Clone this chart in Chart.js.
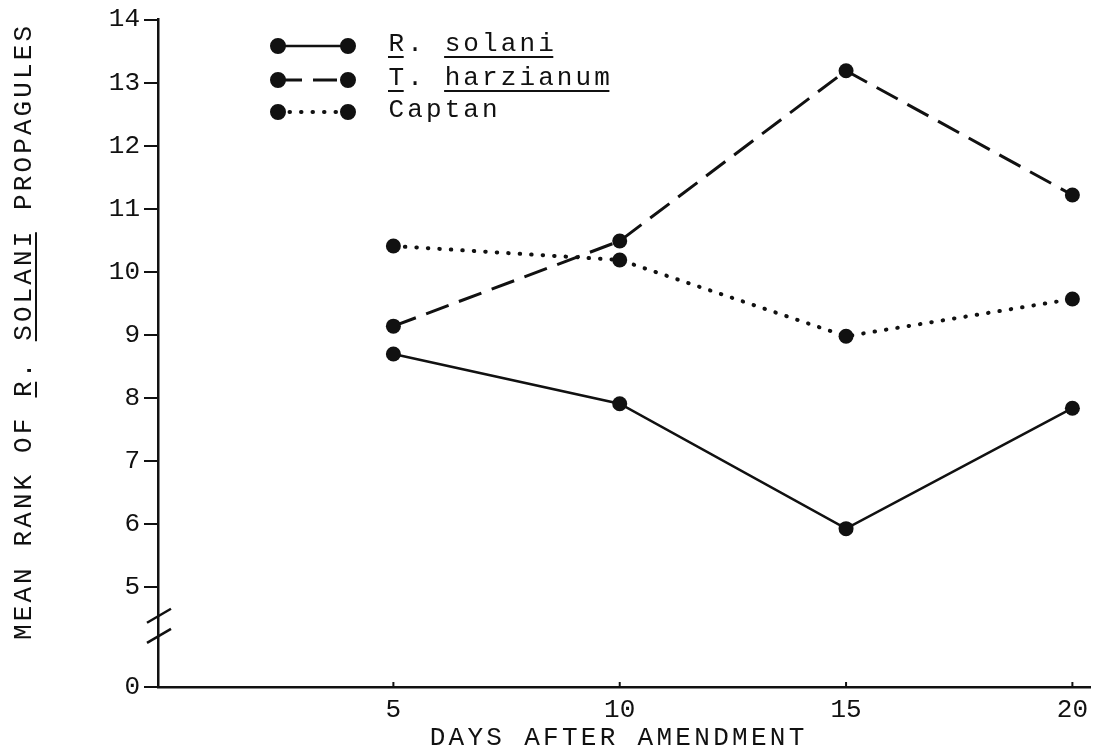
<!DOCTYPE html>
<html>
<head>
<meta charset="utf-8">
<script src="https://cdn.jsdelivr.net/npm/chart.js@4.4.1/dist/chart.umd.min.js"></script>
<style>
  html, body { margin: 0; padding: 0; background: #fff; }
  #wrap { width: 1098px; height: 753px; }
</style>
</head>
<body>
<div id="wrap"><canvas id="grafico" width="1098" height="753"></canvas></div>
<script>
// dados
var dias = [5, 10, 15, 20]
var rSolani = [8.70, 7.91, 5.93, 7.84]
var tHarzianum = [9.14, 10.49, 13.19, 11.22]
var captan = [10.41, 10.19, 8.98, 9.57]
var ticksY = [5, 6, 7, 8, 9, 10, 11, 12, 13, 14]
var ticksX = [5, 10, 15, 20]
var nomes = ['R. solani', 'T. harzianum', 'Captan']
// o eixo y e quebrado: o fundo do eixo leva o rotulo "0"
var baseY = 3.42

var fonte = "'Liberation Mono', 'DejaVu Sans Mono', monospace"
var tinta = '#111'

function pontos(valores) {
    return dias.map(function (d, i) { return { x: d, y: valores[i] } })
}

// escreve texto de maquina com passo fixo entre letras
function escreverEspacado(ctx, texto, x0, y, passo) {
    for (var i = 0; i < texto.length; i++) {
        ctx.fillText(texto[i], x0 + i * passo + passo / 2, y)
    }
}

function sublinhar(ctx, x0, passo, de, ate, y) {
    ctx.beginPath()
    ctx.moveTo(x0 + de * passo + 1, y)
    ctx.lineTo(x0 + (ate + 1) * passo - 2, y)
    ctx.stroke()
}

var estilos = [
    { dash: [], largura: 2.5, cap: 'butt' },
    { dash: [24, 11], largura: 3, cap: 'butt' },
    { dash: [0.5, 11], largura: 4, cap: 'round' }
]

var extras = {
    id: 'extras',
    afterDraw: function (chart) {
        var ctx = chart.ctx
        var sx = chart.scales.x
        var sy = chart.scales.y
        var esq = chart.chartArea.left
        var fundo = chart.chartArea.bottom
        ctx.save()
        ctx.strokeStyle = tinta
        ctx.fillStyle = tinta

        // pequenos tracos para cima no eixo x
        ctx.lineWidth = 2
        ticksX.forEach(function (t) {
            var px = sx.getPixelForValue(t)
            ctx.beginPath()
            ctx.moveTo(px, fundo)
            ctx.lineTo(px, fundo - 5)
            ctx.stroke()
        })

        // marca de quebra no eixo y
        ctx.lineWidth = 2.5
        ;[4.55, 4.23].forEach(function (v) {
            var py = sy.getPixelForValue(v)
            ctx.beginPath()
            ctx.moveTo(esq - 11, py + 7)
            ctx.lineTo(esq + 13, py - 7)
            ctx.stroke()
        })

        // legenda
        var linhasY = [46, 80, 112]
        nomes.forEach(function (nome, i) {
            var y = linhasY[i]
            var e = estilos[i]
            ctx.save()
            ctx.lineWidth = e.largura
            ctx.lineCap = e.cap
            ctx.setLineDash(e.dash)
            ctx.beginPath()
            ctx.moveTo(278, y)
            ctx.lineTo(348, y)
            ctx.stroke()
            ctx.restore()
            ctx.beginPath()
            ctx.arc(278, y, 8, 0, Math.PI * 2)
            ctx.arc(348, y, 8, 0, Math.PI * 2)
            ctx.fill()

            ctx.font = '26px ' + fonte
            ctx.textAlign = 'center'
            ctx.textBaseline = 'middle'
            escreverEspacado(ctx, nome, 387, y - 2, 18.7)
            ctx.lineWidth = 2
            if (i == 0) {
                sublinhar(ctx, 387, 18.7, 0, 0, y + 11)
                sublinhar(ctx, 387, 18.7, 3, 8, y + 11)
            }
            if (i == 1) {
                sublinhar(ctx, 387, 18.7, 0, 0, y + 11)
                sublinhar(ctx, 387, 18.7, 3, 11, y + 11)
            }
        })

        // titulo do eixo x
        ctx.font = '26px ' + fonte
        ctx.textAlign = 'center'
        ctx.textBaseline = 'middle'
        escreverEspacado(ctx, 'DAYS AFTER AMENDMENT', 428, 738, 18.9)

        // titulo do eixo y, girado
        var tituloY = 'MEAN RANK OF R. SOLANI PROPAGULES'
        var passo = 18.7
        ctx.save()
        ctx.translate(24, 333)
        ctx.rotate(-Math.PI / 2)
        var x0 = -tituloY.length * passo / 2
        escreverEspacado(ctx, tituloY, x0, 0, passo)
        ctx.lineWidth = 2
        sublinhar(ctx, x0, passo, 13, 13, 12)
        sublinhar(ctx, x0, passo, 16, 21, 12)
        ctx.restore()

        ctx.restore()
    }
}

var ctxGrafico = document.getElementById('grafico')

new Chart(ctxGrafico, {
    type: 'line',
    data: {
        datasets: [rSolani, tHarzianum, captan].map(function (serie, i) {
            return {
                label: nomes[i],
                data: pontos(serie),
                borderColor: tinta,
                backgroundColor: tinta,
                borderWidth: estilos[i].largura,
                borderDash: estilos[i].dash,
                borderCapStyle: estilos[i].cap,
                pointRadius: 7.5,
                pointBorderWidth: 0,
                pointBackgroundColor: tinta,
                tension: 0,
                fill: false
            }
        })
    },
    plugins: [extras],
    options: {
        responsive: false,
        animation: false,
        layout: { padding: { top: 18, left: 0, right: 0, bottom: 0 } },
        plugins: {
            legend: { display: false },
            tooltip: { enabled: false }
        },
        scales: {
            x: {
                type: 'linear',
                min: -0.2,
                max: 20.4,
                afterBuildTicks: function (scale) {
                    scale.ticks = ticksX.map(function (v) { return { value: v } })
                },
                afterFit: function (scale) { scale.height = 66 },
                grid: { display: false },
                border: { display: true, color: tinta, width: 2.5 },
                ticks: {
                    padding: 0,
                    maxRotation: 0,
                    color: tinta,
                    font: { family: fonte, size: 26 }
                }
            },
            y: {
                type: 'linear',
                min: baseY,
                max: 14,
                afterBuildTicks: function (scale) {
                    scale.ticks = [{ value: baseY }].concat(ticksY.map(function (v) { return { value: v } }))
                },
                afterFit: function (scale) { scale.width = 158 },
                grid: {
                    drawOnChartArea: false,
                    drawTicks: true,
                    tickLength: 14,
                    color: tinta,
                    lineWidth: 2
                },
                border: { display: true, color: tinta, width: 2.5 },
                ticks: {
                    padding: 4,
                    color: tinta,
                    font: { family: fonte, size: 26 },
                    callback: function (v) { return v < 4 ? '0' : String(v) }
                }
            }
        }
    }
});
</script>
</body>
</html>
